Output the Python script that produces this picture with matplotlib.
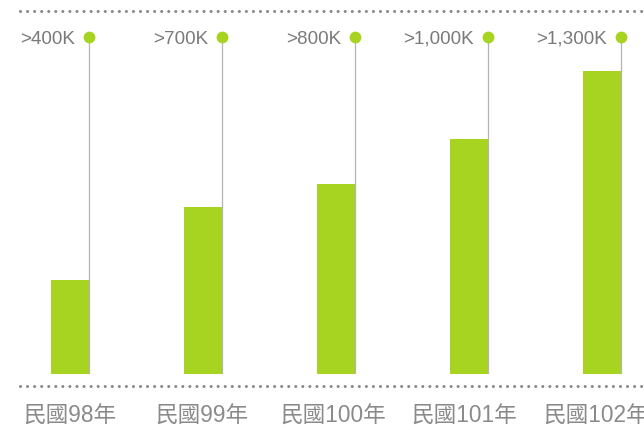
import matplotlib
matplotlib.use('Agg')
import matplotlib.pyplot as plt
from matplotlib.lines import Line2D

# data
years = ['民國98年', '民國99年', '民國100年', '民國101年', '民國102年']
values = [403, 717, 815, 1009, 1300]  # thousands
tags = ['>400K', '>700K', '>800K', '>1,000K', '>1,300K']

green = '#a6d421'
grey = '#888888'

W, H = 644, 431
fig = plt.figure(figsize=(W/100, H/100), dpi=100)
base_px = 56  # baseline height from bottom, px
ax = fig.add_axes([0, base_px/H, 1, (H-base_px)/H])
px_per_k = 0.233
ax.set_ylim(0, (H-base_px)/px_per_k)
step = 133.0
ax.set_xlim(-70/step, (W-70)/step)
ax.axis('off')

bw = 38/step
top = (H-base_px-38)/px_per_k  # dot height
x = list(range(len(values)))
ax.bar(x, values, width=bw, color=green, zorder=2)
for i, (v, t) in enumerate(zip(values, tags)):
    xr = i + bw/2
    ax.plot([xr, xr], [0, top], color='#b4b4b4', lw=0.9, zorder=3)
    ax.plot(xr, top, 'o', ms=8.5, color=green, mec='none', zorder=4)
    ax.text(xr - 14/step, top - 1/px_per_k, t, ha='right', va='center', fontsize=13.6,
            color='#7a7a7a', family=['Liberation Sans', 'DejaVu Sans'])
    # category labels sit on a slightly tighter pitch than the bars
    ax.text(i*131.5/step, -41/px_per_k, years[i], ha='center', va='center', fontsize=16.3,
            color='#8a8a8a', family=['Liberation Sans', 'Noto Sans CJK TC'],
            clip_on=False)

# dotted rules
for ypx in (12, 387):
    yf = 1 - ypx/H
    fig.add_artist(Line2D([20/W, 1], [yf, yf], color=grey, lw=2.2,
                          linestyle=(0, (0.01, 2.3)), dash_capstyle='round'))

fig.savefig('out.png', dpi=100)
